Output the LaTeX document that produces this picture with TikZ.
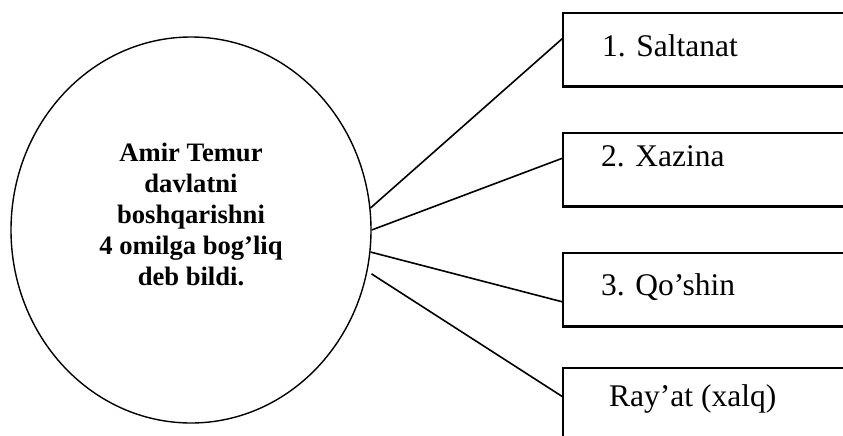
\documentclass[tikz,border=0pt]{standalone}
\usepackage{fontspec}
\setmainfont{Liberation Serif}
\usetikzlibrary{shapes.geometric,calc}
\begin{document}
\begin{tikzpicture}[x=1pt,y=-1pt,
  factorbox/.style={rectangle,inner sep=0pt,anchor=north west,minimum width=320pt},
  boxedge/.style={line width=2.2pt,line join=miter},
  boxtext/.style={anchor=base west,inner sep=0pt,font=\fontsize{31.5}{36}\selectfont},
  link/.style={line width=1.6pt}]
\useasboundingbox (0,0) rectangle (843,436);
\clip (0,0) rectangle (843,436);
\fill[white] (0,0) rectangle (843,436);
% central ellipse
\node[draw,ellipse,line width=1.4pt,minimum width=360pt,minimum height=386pt,inner sep=0pt] (ell) at (191,230) {};
\node[align=center,inner sep=0pt,font=\fontsize{26.6}{30.8}\selectfont\bfseries] (title) at (191,214.5)
  {Amir Temur\\davlatni\\boshqarishni\\4 omilga bog’liq\\deb bildi.};
% boxes (cut by the page edge)
\node[factorbox,minimum height=73pt] (box1) at (563,13) {};
\node[factorbox,minimum height=73pt] (box2) at (563,133) {};
\node[factorbox,minimum height=73pt] (box3) at (563,253) {};
\node[factorbox,minimum height=120pt] (box4) at (563,368) {};
\foreach \b in {box1,box2,box3,box4}
  \draw[boxedge] (\b.north east) -- (\b.north west) -- (\b.south west) -- (\b.south east);
\node[boxtext] (t1) at (602,57) {1. Saltanat};
\node[boxtext] (t2) at (601,166.5) {2. Xazina};
\node[boxtext] (t3) at (601,295) {3. Qo’shin};
\node[boxtext] (t4) at (609,406.5) {Ray’at (xalq)};
% connector end points on the boxes' left sides
\coordinate (e1) at ($(box1.north west)+(0,25)$);
\coordinate (e2) at ($(box2.north west)+(0,25)$);
\coordinate (e3) at ($(box3.north west)+(0,49)$);
\coordinate (e4) at ($(box4.north west)+(0,29)$);
\coordinate (s4) at ([xshift=4.5pt]ell.-14.7);
\draw[link] (ell.7.6) -- (e1);
\draw[link] (ell.0.3) -- (e2);
\draw[link] (ell.-7.3) -- (e3);
\draw[link] (s4) -- (e4);
\end{tikzpicture}
\end{document}
